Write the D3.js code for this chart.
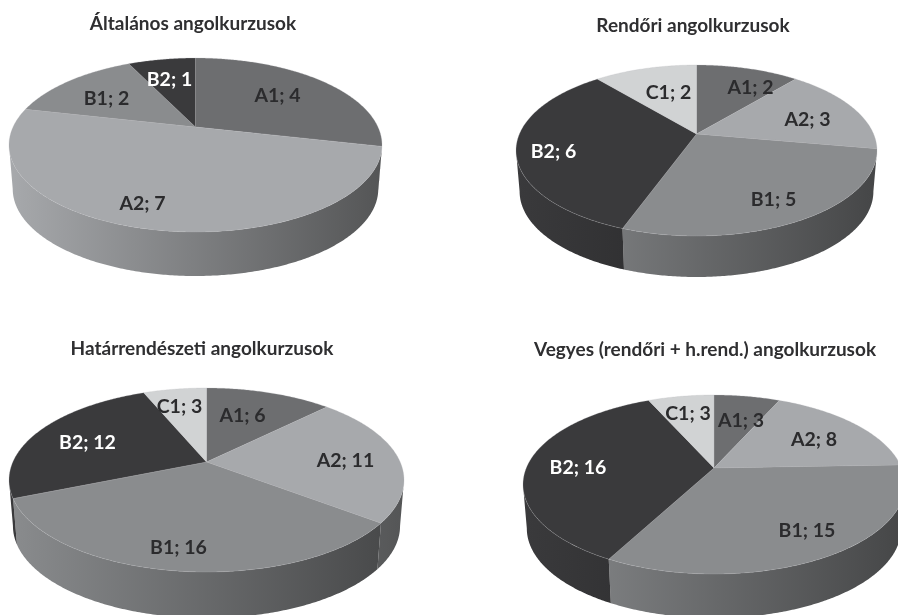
<!DOCTYPE html>
<html>
<head>
<meta charset="utf-8">
<title>Angolkurzusok</title>
<script src="https://cdn.jsdelivr.net/npm/d3@7"></script>
<style>
    html, body { margin: 0; padding: 0; background: #fff; overflow: hidden; }
    svg { display: block; filter: blur(0.45px); }
    text { font-family: Lato, "Open Sans", sans-serif; font-weight: 700; }
</style>
</head>
<body>
<div id="chart"></div>
<script>
const width = 898;
const height = 615;

// data
const generalLevels = ['A1', 'A2', 'B1', 'B2'];
const generalValues = [4, 7, 2, 1];
const policeLevels = ['A1', 'A2', 'B1', 'B2', 'C1'];
const policeValues = [2, 3, 5, 6, 2];
const borderLevels = ['A1', 'A2', 'B1', 'B2', 'C1'];
const borderValues = [6, 11, 16, 12, 3];
const mixedLevels = ['A1', 'A2', 'B1', 'B2', 'C1'];
const mixedValues = [3, 8, 15, 16, 3];

const allLevels = ['A1', 'A2', 'B1', 'B2', 'C1'];
const levelColors = ['#6d6e70', '#a7a9ac', '#8a8c8e', '#3a3a3c', '#d1d3d4'];
const labelColors = ['#2b2b2d', '#2b2b2d', '#2b2b2d', '#ffffff', '#2b2b2d'];

const color = d3.scaleOrdinal(allLevels, levelColors);
const labelColor = d3.scaleOrdinal(allLevels, labelColors);

// cx,cy = where the slices meet, back/front = distance to the far/near rim
const pies = [
    {
        title: 'Általános angolkurzusok', titleX: 193, titleY: 22,
        levels: generalLevels, values: generalValues,
        cx: 195.5, cy: 127, back: 69, front: 105, halfWidth: 186.5, depth: 44,
        labelOffsets: [[82, -33], [-53, 75], [-89, -30], [-26, -49]]
    },
    {
        title: 'Rendőri angolkurzusok', titleX: 693, titleY: 24,
        levels: policeLevels, values: policeValues,
        cx: 696.5, cy: 134, back: 69, front: 102, halfWidth: 180.5, depth: 41,
        labelOffsets: [[54, -48], [111, -16], [77, 64], [-143, 16], [-28, -43]]
    },
    {
        title: 'Határrendészeti angolkurzusok', titleX: 202, titleY: 347,
        levels: borderLevels, values: borderValues,
        cx: 206.5, cy: 462, back: 74, front: 110, halfWidth: 197.5, depth: 46,
        labelOffsets: [[36, -48], [139, -3], [-28, 84], [-119, -21], [-27, -57]]
    },
    {
        title: 'Vegyes (rendőri + h.rend.) angolkurzusok', titleX: 705, titleY: 348,
        levels: mixedLevels, values: mixedValues,
        cx: 714, cy: 468, back: 73, front: 106, halfWidth: 191, depth: 44,
        labelOffsets: [[27, -49], [100, -30], [93, 61], [-136, -2], [-26, -56]]
    }
];

const svg = d3.select('#chart').append('svg')
    .attr('width', width)
    .attr('height', height)
    .attr('viewBox', [0, 0, width, height]);

const defs = svg.append('defs');

const pieLayout = d3.pie().sort(null).startAngle(0).endAngle(2 * Math.PI);

pies.forEach((pie, pieIndex) => {
    // perspective tilt: the near half of the disc looks bigger than the far half
    const k = (pie.front - pie.back) / (pie.front + pie.back);
    const ry = 2 * pie.front * pie.back / (pie.front + pie.back);
    const rx = pie.halfWidth * Math.sqrt(1 - k * k);

    const project = angle => {
        const w = 1 + k * Math.cos(angle);
        return [pie.cx + rx * Math.sin(angle) / w, pie.cy - ry * Math.cos(angle) / w];
    };

    const samples = (a0, a1) => {
        const steps = Math.max(2, Math.ceil((a1 - a0) / 0.01));
        return d3.range(steps + 1).map(i => a0 + (a1 - a0) * i / steps);
    };

    const line = d3.line();
    // bottom rim is further away so it comes out a little narrower
    const wallArea = d3.area()
        .x0(a => project(a)[0])
        .x1(a => pie.cx + (project(a)[0] - pie.cx) * 0.98)
        .y0(a => project(a)[1])
        .y1(a => project(a)[1] + pie.depth);

    const arcs = pieLayout(pie.values);
    const g = svg.append('g');

    // only the part of the rim that faces the viewer gets a wall
    const wallStart = Math.acos(-k);
    const wallEnd = 2 * Math.PI - wallStart;

    arcs.forEach((d, i) => {
        const level = pie.levels[i];
        const a0 = Math.max(d.startAngle, wallStart);
        const a1 = Math.min(d.endAngle, wallEnd);
        if (a1 <= a0) return;

        const id = `wall-${pieIndex}-${level}`;
        const base = d3.color(color(level));
        const grad = defs.append('linearGradient')
            .attr('id', id)
            .attr('gradientUnits', 'userSpaceOnUse')
            .attr('x1', pie.cx - pie.halfWidth)
            .attr('x2', pie.cx + pie.halfWidth)
            .attr('y1', 0)
            .attr('y2', 0);
        grad.append('stop').attr('offset', 0).attr('stop-color', base.formatHex());
        grad.append('stop').attr('offset', 1)
            .attr('stop-color', d3.rgb(base.r * 0.5, base.g * 0.5, base.b * 0.5).formatHex());

        g.append('path')
            .attr('d', wallArea(samples(a0, a1)))
            .attr('fill', `url(#${id})`);
    });

    arcs.forEach((d, i) => {
        const level = pie.levels[i];
        const rim = samples(d.startAngle, d.endAngle).map(project);
        g.append('path')
            .attr('d', line([[pie.cx, pie.cy], ...rim]) + 'Z')
            .attr('fill', color(level))
            .attr('stroke', '#b8b8ba')
            .attr('stroke-width', 0.4)
            .attr('stroke-opacity', 0.6);
    });

    arcs.forEach((d, i) => {
        const level = pie.levels[i];
        g.append('text')
            .attr('x', pie.cx + pie.labelOffsets[i][0])
            .attr('y', pie.cy + pie.labelOffsets[i][1])
            .attr('text-anchor', 'middle')
            .attr('dominant-baseline', 'central')
            .attr('font-size', 19.5)
            .attr('fill', labelColor(level))
            .text(`${level}; ${d.value}`);
    });

    g.append('text')
        .attr('x', pie.titleX)
        .attr('y', pie.titleY)
        .attr('text-anchor', 'middle')
        .attr('dominant-baseline', 'central')
        .attr('font-size', 19)
        .attr('fill', '#2f2f31')
        .text(pie.title);
});
</script>
</body>
</html>
